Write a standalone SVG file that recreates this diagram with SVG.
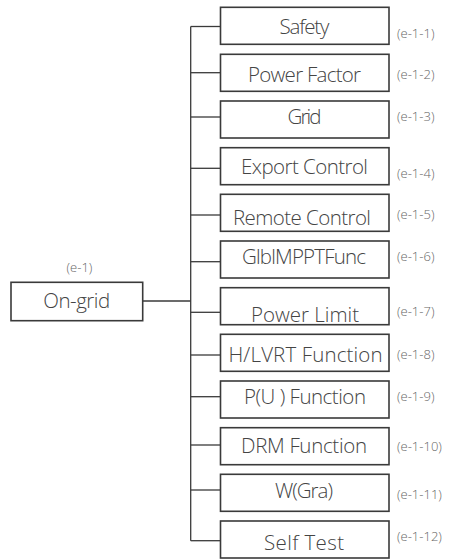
<svg xmlns="http://www.w3.org/2000/svg" width="452" height="560" viewBox="0 0 452 560">
<style>
.box{fill:#fff;stroke:#3a3a3a;stroke-width:1.6}
.t{font-family:"Open Sans","Liberation Sans",Arial,sans-serif;font-weight:300;font-size:20.5px;fill:#444;text-anchor:middle}
.lb{font-family:"Open Sans","Liberation Sans",Arial,sans-serif;font-weight:300;font-size:13px;fill:#666}
.c{stroke:#3a3a3a;stroke-width:1.3;fill:none}
</style>
<rect width="452" height="560" fill="#fff"/>
<g id="connectors">
<line class="c" x1="190.7" y1="26.5" x2="190.7" y2="540.7"/>
<line class="c" x1="142.7" y1="301" x2="190.7" y2="301"/>
<line class="c" x1="190.7" y1="26.5" x2="220.5" y2="26.5"/>
<line class="c" x1="190.7" y1="72.7" x2="220.5" y2="72.7"/>
<line class="c" x1="190.7" y1="117" x2="220.5" y2="117"/>
<line class="c" x1="190.7" y1="168.3" x2="220.5" y2="168.3"/>
<line class="c" x1="190.7" y1="215" x2="220.5" y2="215"/>
<line class="c" x1="190.7" y1="261.7" x2="220.5" y2="261.7"/>
<line class="c" x1="190.7" y1="312.3" x2="220.5" y2="312.3"/>
<line class="c" x1="190.7" y1="355" x2="220.5" y2="355"/>
<line class="c" x1="190.7" y1="396.7" x2="220.5" y2="396.7"/>
<line class="c" x1="190.7" y1="445" x2="220.5" y2="445"/>
<line class="c" x1="190.7" y1="490" x2="220.5" y2="490"/>
<line class="c" x1="190.7" y1="540.7" x2="220.5" y2="540.7"/>
</g>
<g id="on-grid">
<text class="lb" x="79.5" y="272" text-anchor="middle">(e-1)</text>
<rect class="box" x="11" y="282.3" width="131.7" height="38.4"/>
<text class="t" x="76.7" y="308" font-size="21" textLength="67">On-grid</text>
</g>
<g id="safety">
<rect class="box" x="220.5" y="7.3" width="168.5" height="37"/>
<text class="t" x="304.5" y="33.5" textLength="50">Safety</text>
<text class="lb" x="397" y="37.5">(e-1-1)</text>
</g>
<g id="power-factor">
<rect class="box" x="220.5" y="54.3" width="168.5" height="37"/>
<text class="t" x="304.5" y="81.5" textLength="113">Power Factor</text>
<text class="lb" x="397" y="78.5">(e-1-2)</text>
</g>
<g id="grid">
<rect class="box" x="220.5" y="101" width="168.5" height="37"/>
<text class="t" x="304.5" y="123.5" textLength="34">Grid</text>
<text class="lb" x="397" y="121">(e-1-3)</text>
</g>
<g id="export-control">
<rect class="box" x="220.5" y="147.7" width="168.5" height="37"/>
<text class="t" x="304.5" y="174" textLength="127">Export Control</text>
<text class="lb" x="397" y="177.5">(e-1-4)</text>
</g>
<g id="remote-control">
<rect class="box" x="220.5" y="194.3" width="168.5" height="37"/>
<text class="t" x="302" y="224.5" textLength="138">Remote Control</text>
<text class="lb" x="397" y="218.5">(e-1-5)</text>
</g>
<g id="glblmpptfunc">
<rect class="box" x="220.5" y="241" width="168.5" height="37"/>
<text class="t" x="304" y="264" textLength="124">GlblMPPTFunc</text>
<text class="lb" x="397" y="261">(e-1-6)</text>
</g>
<g id="power-limit">
<rect class="box" x="220.5" y="287.7" width="168.5" height="37"/>
<text class="t" x="305" y="321.5" textLength="108">Power Limit</text>
<text class="lb" x="397" y="316">(e-1-7)</text>
</g>
<g id="hlvrt-function">
<rect class="box" x="220.5" y="334.3" width="168.5" height="37"/>
<text class="t" x="305.5" y="361.5" textLength="154">H/LVRT Function</text>
<text class="lb" x="397" y="358.5">(e-1-8)</text>
</g>
<g id="pu-function">
<rect class="box" x="220.5" y="381" width="168.5" height="37"/>
<text class="t" x="305" y="403.5" textLength="122">P(U ) Function</text>
<text class="lb" x="397" y="401">(e-1-9)</text>
</g>
<g id="drm-function">
<rect class="box" x="220.5" y="427.7" width="168.5" height="37"/>
<text class="t" x="304" y="452.5" textLength="126">DRM Function</text>
<text class="lb" x="397" y="451">(e-1-10)</text>
</g>
<g id="w-gra">
<rect class="box" x="220.5" y="474.3" width="168.5" height="37"/>
<text class="t" x="304" y="497.5" textLength="58">W(Gra)</text>
<text class="lb" x="397" y="498.5">(e-1-11)</text>
</g>
<g id="self-test">
<rect class="box" x="220.5" y="521" width="168.5" height="37"/>
<text class="t" x="304" y="549.5" textLength="80">Self Test</text>
<text class="lb" x="397" y="540.5">(e-1-12)</text>
</g>
</svg>
